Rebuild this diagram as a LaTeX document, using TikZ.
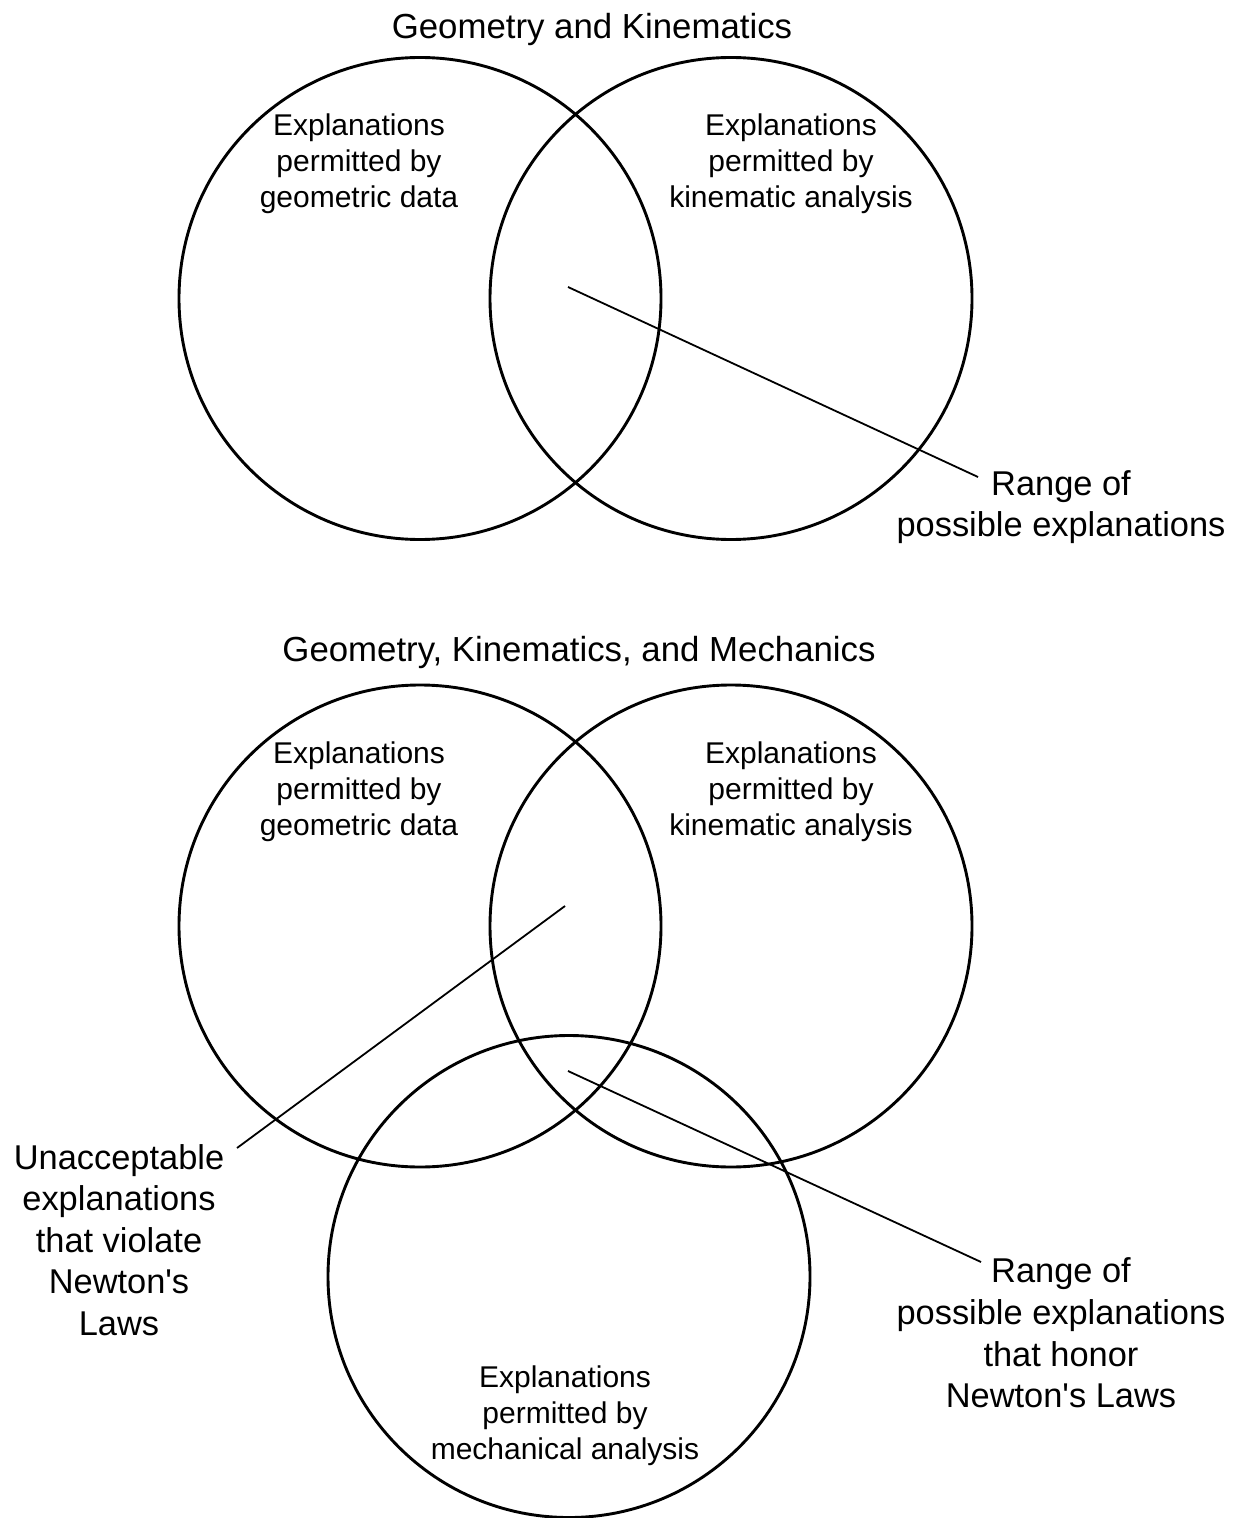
\documentclass[tikz,border=0pt]{standalone}
\usepackage{fontspec}
\setmainfont{Liberation Sans}
\begin{document}
\begin{tikzpicture}[x=0.5pt,y=-0.5pt,
  venn/.style={draw=black,line width=1.45pt},
  leader/.style={draw=black,line width=0.9pt},
  small/.style={align=center,inner sep=0pt,font=\fontsize{15}{18}\selectfont},
  big/.style={align=center,inner sep=0pt,font=\fontsize{17.2}{20.8}\selectfont},
  ttl/.style={inner sep=0pt,font=\fontsize{17.4}{21}\selectfont}]
\useasboundingbox (0,0) rectangle (1238,1518);
% ---- top diagram ----
\node[ttl] (t1) at (592,30) {Geometry and Kinematics};
\draw[venn] (420,298.5) circle [radius=241];
\draw[venn] (731,298.5) circle [radius=241];
\node[small] (g1) at (359,164) {Explanations\\permitted by\\geometric data};
\node[small] (k1) at (791,164) {Explanations\\permitted by\\kinematic analysis};
\node[big] (r1) at (1061,507) {Range of\\possible explanations};
\coordinate (p1) at (568,287);
\coordinate (q1) at (978,477);
\draw[leader] (p1) -- (q1);
% ---- bottom diagram ----
\node[ttl] (t2) at (579,652) {Geometry, Kinematics, and Mechanics};
\draw[venn] (420,926) circle [radius=241];
\draw[venn] (731,926) circle [radius=241];
\draw[venn] (569,1276.5) circle [radius=241];
\node[small] (g2) at (359,792) {Explanations\\permitted by\\geometric data};
\node[small] (k2) at (791,792) {Explanations\\permitted by\\kinematic analysis};
\node[small] (m2) at (565,1416) {Explanations\\permitted by\\mechanical analysis};
\node[big] (u2) at (119,1240) {Unacceptable\\explanations\\that violate\\Newton\textquotesingle s\\Laws};
\node[big] (r2) at (1061,1333) {Range of\\possible explanations\\that honor\\Newton\textquotesingle s Laws};
\coordinate (p2) at (565,906);
\coordinate (q2) at (237,1148);
\coordinate (p3) at (568,1071);
\coordinate (q3) at (981,1262);
\draw[leader] (p2) -- (q2);
\draw[leader] (p3) -- (q3);
\end{tikzpicture}
\end{document}
